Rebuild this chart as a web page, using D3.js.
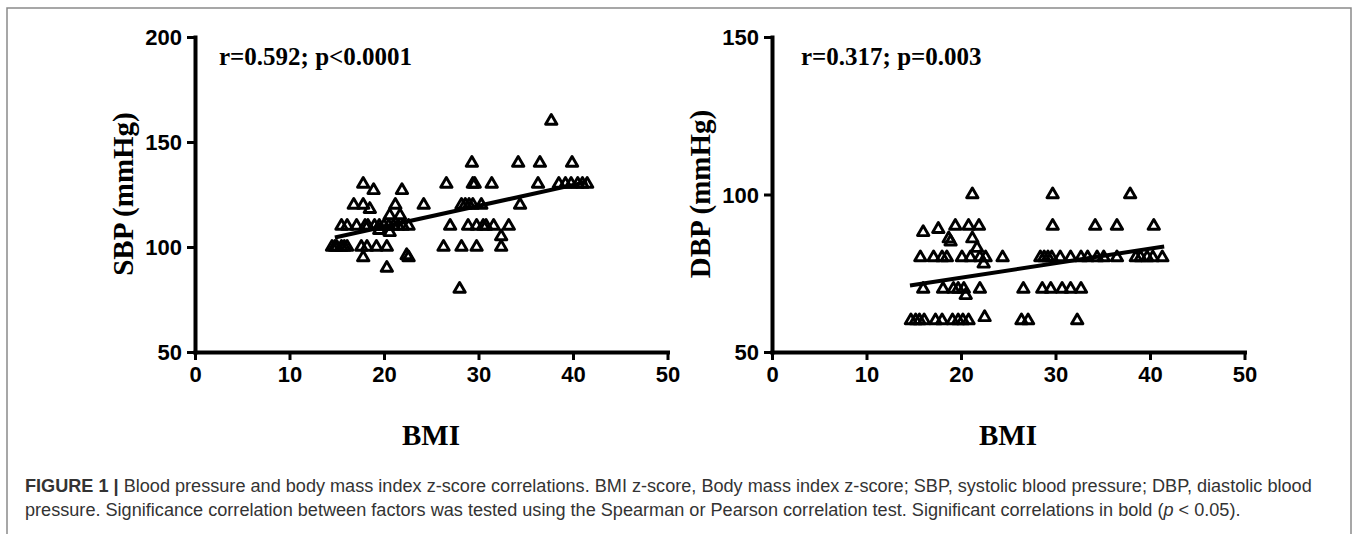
<!DOCTYPE html>
<html>
<head>
<meta charset="utf-8">
<script src="https://cdn.jsdelivr.net/npm/d3@7"></script>
<style>
  body { margin: 0; background: #fff; }
</style>
</head>
<body>
<div id="chart"></div>
<script>
// tick values
const bmiTicks = [0, 10, 20, 30, 40, 50];
const sbpTicks = [50, 100, 150, 200];
const dbpTicks = [50, 100, 150];

// [BMI, SBP]
const sbpPoints = [
    [14.5, 100], [14.8, 100], [15.0, 100], [15.5, 100], [15.8, 100], [16.1, 100], [17.6, 100], [18.2, 100],
    [19.2, 100], [20.3, 100], [26.3, 100], [28.2, 100], [29.8, 100], [32.4, 100],
    [17.8, 95], [22.4, 96], [22.6, 95], [20.3, 90], [28.0, 80], [32.4, 105],
    [15.5, 110], [16.1, 110], [17.1, 110], [18.0, 110], [18.3, 110], [19.0, 110], [19.5, 110], [20.0, 110],
    [20.5, 110], [21.0, 110], [21.5, 110], [22.0, 110], [22.6, 110], [27.0, 110], [28.9, 110], [29.8, 110],
    [30.5, 110], [30.8, 110], [31.6, 110], [33.2, 110], [20.6, 107], [19.5, 108],
    [20.6, 115], [21.7, 115], [18.5, 118],
    [16.8, 120], [17.8, 120], [21.2, 120], [24.2, 120], [28.2, 120], [28.6, 120], [29.0, 120], [29.4, 120],
    [30.3, 120], [34.4, 120], [18.9, 127], [21.9, 127],
    [17.8, 130], [26.6, 130], [29.4, 130], [29.6, 130], [31.4, 130], [36.3, 130], [38.5, 130], [39.2, 130],
    [39.8, 130], [40.5, 130], [41.0, 130], [41.5, 130],
    [29.3, 140], [34.2, 140], [36.5, 140], [39.9, 140], [37.7, 160]
];

// [BMI, DBP]
const dbpPoints = [
    [21.2, 100], [29.7, 100], [37.9, 100],
    [16.0, 88], [17.6, 89], [19.4, 90], [20.8, 90], [21.9, 90], [29.7, 90], [34.2, 90], [36.5, 90], [40.4, 90],
    [18.7, 86], [18.9, 85], [21.2, 86], [21.7, 83],
    [15.7, 80], [17.1, 80], [18.0, 80], [18.5, 80], [20.1, 80], [21.0, 80], [22.0, 80], [22.6, 80], [24.4, 80],
    [28.4, 80], [28.8, 80], [29.2, 80], [29.6, 80], [30.5, 80], [31.6, 80], [32.7, 80], [33.4, 80], [34.4, 80],
    [35.1, 80], [36.5, 80], [38.5, 80], [39.0, 80], [39.7, 80], [40.3, 80], [41.3, 80], [22.4, 78],
    [16.0, 70], [18.1, 70], [19.2, 70], [19.7, 70], [20.3, 70], [22.0, 70], [26.6, 70], [28.6, 70], [29.5, 70],
    [30.7, 70], [31.6, 70], [32.7, 70], [20.5, 68],
    [14.7, 60], [15.2, 60], [15.6, 60], [16.1, 60], [17.3, 60], [18.0, 60], [19.1, 60], [19.7, 60], [20.2, 60],
    [20.8, 60], [26.4, 60], [27.1, 60], [32.3, 60], [22.5, 61]
];

// fitted line end points
const sbpFit = [[14.8, 104.5], [41.5, 131]];
const dbpFit = [[14.6, 71.1], [41.5, 83.5]];

const W = 1357, H = 534;

const svg = d3.select("#chart")
    .append("svg")
    .attr("width", W)
    .attr("height", H);

//frame round the figure
svg.append("path")
    .attr("d", "M7," + H + "V8H1351V" + H)
    .attr("fill", "none")
    .attr("stroke", "#8a8a8a")
    .attr("stroke-width", 1.5);

function drawPanel(opt)
{
    const x = d3.scaleLinear().domain([0, 50]).range([opt.left, opt.left + 472.5]);
    const y = d3.scaleLinear().domain(opt.yDomain).range([352, 37]);

    const g = svg.append("g");

    //x axis
    const xAxis = g.append("g")
        .attr("transform", "translate(0,352)")
        .call(d3.axisBottom(x).tickValues(bmiTicks).tickSize(8).tickSizeOuter(0).tickPadding(6));

    //y axis
    const yAxis = g.append("g")
        .attr("transform", "translate(" + opt.left + ",0)")
        .call(d3.axisLeft(y).tickValues(opt.yTicks).tickSize(8).tickSizeOuter(0).tickPadding(5));

    [xAxis, yAxis].forEach(a => {
        a.select(".domain").attr("stroke-width", 4).attr("stroke-linecap", "square");
        a.selectAll(".tick line").attr("stroke-width", 3);
        a.selectAll(".tick text")
            .style("font-family", "'Liberation Sans', Arial, sans-serif")
            .style("font-weight", "bold")
            .style("font-size", "22px")
            .attr("fill", "#000");
    });
    yAxis.selectAll(".tick text").attr("dy", "0.36em");

    //regression line
    g.append("line")
        .attr("x1", x(opt.fit[0][0]))
        .attr("y1", y(opt.fit[0][1]))
        .attr("x2", x(opt.fit[1][0]))
        .attr("y2", y(opt.fit[1][1]))
        .attr("stroke", "#000")
        .attr("stroke-width", 4);

    //open triangles
    g.append("g")
        .selectAll("path")
        .data(opt.points)
        .enter()
        .append("path")
        .attr("d", d3.symbol(d3.symbolTriangle, 56))
        .attr("transform", d => "translate(" + x(d[0]) + "," + y(d[1]) + ")")
        .attr("fill", "none")
        .attr("stroke", "#000")
        .attr("stroke-width", 2.9)
        .attr("stroke-linejoin", "round");

    //correlation text
    g.append("text")
        .attr("x", opt.left + opt.noteDx)
        .attr("y", 65)
        .style("font-family", "'Liberation Serif', 'Times New Roman', serif")
        .style("font-weight", "bold")
        .style("font-size", "25px")
        .text(opt.note);

    //y axis label
    g.append("text")
        .attr("text-anchor", "middle")
        .attr("transform", "translate(" + opt.yLabelX + ",194) rotate(-90)")
        .style("font-family", "'Liberation Serif', 'Times New Roman', serif")
        .style("font-weight", "bold")
        .style("font-size", "29px")
        .text(opt.yLabel);

    //x axis label
    g.append("text")
        .attr("text-anchor", "middle")
        .attr("x", opt.left + 236)
        .attr("y", 445)
        .style("font-family", "'Liberation Serif', 'Times New Roman', serif")
        .style("font-weight", "bold")
        .style("font-size", "29px")
        .text("BMI");
}

drawPanel({
    left: 195, yDomain: [50, 200], yTicks: sbpTicks, points: sbpPoints, fit: sbpFit,
    note: "r=0.592; p<0.0001", noteDx: 24, yLabel: "SBP (mmHg)", yLabelX: 133
});
drawPanel({
    left: 772, yDomain: [50, 150], yTicks: dbpTicks, points: dbpPoints, fit: dbpFit,
    note: "r=0.317; p=0.003", noteDx: 29, yLabel: "DBP (mmHg)", yLabelX: 710
});

//caption
const cap = svg.append("g")
    .style("font-family", "'Liberation Sans', Arial, sans-serif")
    .style("font-size", "16px")
    .attr("fill", "#333");

const line1 = cap.append("text").attr("x", 25).attr("y", 492);
line1.append("tspan").style("font-weight", "bold").text("FIGURE 1 |");
line1.append("tspan").text(" Blood pressure and body mass index z-score correlations. BMI z-score, Body mass index z-score; SBP, systolic blood pressure; DBP, diastolic blood");

const line2 = cap.append("text").attr("x", 25).attr("y", 516);
line2.append("tspan").text("pressure. Significance correlation between factors was tested using the Spearman or Pearson correlation test. Significant correlations in bold (");
line2.append("tspan").style("font-style", "italic").text("p");
line2.append("tspan").text(" < 0.05).");

//fit the first caption line to the width it has in the figure
const len = line1.node().getComputedTextLength();
cap.style("font-size", (16 * 1287 / len).toFixed(2) + "px");
</script>
</body>
</html>
